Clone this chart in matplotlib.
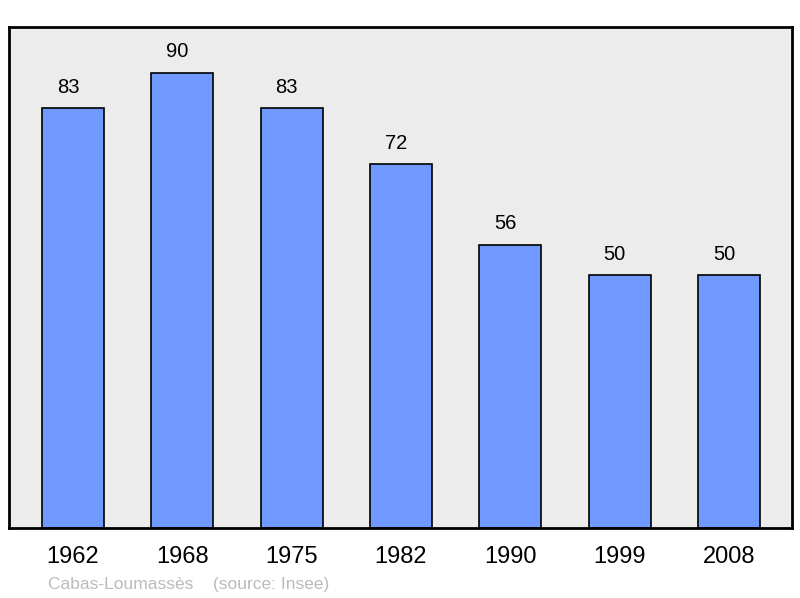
import matplotlib
matplotlib.use("Agg")
import matplotlib.pyplot as plt

years = ["1962", "1968", "1975", "1982", "1990", "1999", "2008"]
population = [83, 90, 83, 72, 56, 50, 50]

plt.rcParams['font.family'] = ['Liberation Sans', 'DejaVu Sans']

fig = plt.figure(figsize=(8, 5.98), dpi=100)
W, H = 800, 598
ax = fig.add_axes([9 / W, 1 - 528 / H, 783 / W, 501 / H])
ax.set_facecolor('#ececec')

x = range(len(years))
ax.bar(x, population, width=0.567, color='#7099ff', edgecolor='black', linewidth=1.2)
for i, v in zip(x, population):
    ax.annotate(str(v), (i, v), xytext=(-3.6, 8), textcoords='offset points',
                ha='center', va='bottom', fontsize=14.5)

ax.set_xlim(-0.585, 6.576)
ax.set_ylim(0, 99)
ax.set_yticks([])
ax.set_xticks(list(x))
ax.set_xticklabels(years, fontsize=17)
ax.tick_params(axis='x', length=0, pad=13)
for s in ax.spines.values():
    s.set_linewidth(2)

fig.text(48 / W, 1 - 584 / H, "Cabas-Loumassès    (source: Insee)",
         color='#bbbbbb', fontsize=12.5, va='center', ha='left')

fig.savefig("out.png", dpi=100)
